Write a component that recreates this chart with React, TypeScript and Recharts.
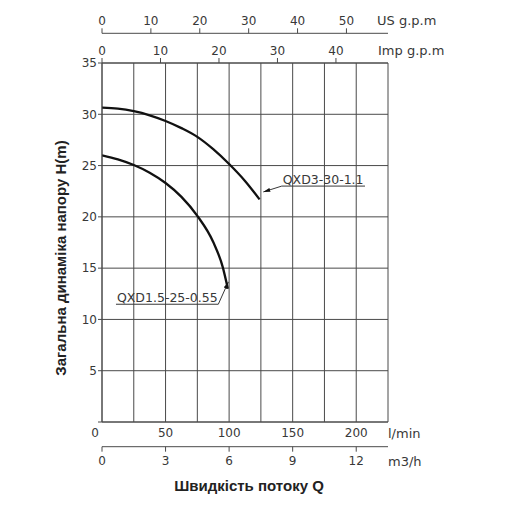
import React from 'react'
import { LineChart, Line, XAxis, YAxis, CartesianGrid, ReferenceLine } from 'recharts'

// axis ticks
const flowTicks = [0, 25, 50, 75, 100, 125, 150, 175, 200, 225]
const headTicks = [0, 5, 10, 15, 20, 25, 30, 35]
const usGpmTicks = [0, 10, 20, 30, 40, 50]
const impGpmTicks = [0, 10, 20, 30, 40]
const m3hTicks = [0, 3, 6, 9, 12]

// secondary scales
const usGpmMax = 58.5
const impGpmMax = 48.9
const m3hMax = 13.5

// QXD3-30-1.1, Q in l/min, H in m
const qxd3Flow = [0, 12.5, 25, 37.5, 50, 62.5, 75, 87.5, 100, 112.5, 124]
const qxd3Head = [30.65, 30.55, 30.3, 29.9, 29.35, 28.65, 27.8, 26.6, 25.15, 23.5, 21.7]

// QXD1.5-25-0.55
const qxd15Flow = [0, 12.5, 25, 37.5, 50, 62.5, 75, 87.5, 95, 99]
const qxd15Head = [26.0, 25.6, 25.05, 24.3, 23.3, 21.95, 20.1, 17.55, 15.1, 13.0]

// callouts: [elbow, arrow tip] and underline [start, end]
const qxd3Leader = [{ q: 141.4, h: 23.0 }, { q: 126.9, h: 22.43 }]
const qxd3Underline = [{ q: 141.4, h: 23.0 }, { q: 206.9, h: 23.0 }]
const qxd15Leader = [{ q: 91.5, h: 11.48 }, { q: 99.4, h: 13.66 }]
const qxd15Underline = [{ q: 11.0, h: 11.48 }, { q: 91.5, h: 11.48 }]

const qxd3 = qxd3Flow.map((q, i) => ({ q, h: qxd3Head[i] }))
const qxd15 = qxd15Flow.map((q, i) => ({ q, h: qxd15Head[i] }))

// end points of the secondary scales, so each axis has something bound to it
const span = (max: number) => [{ q: 0, h: 0 }, { q: max, h: 0 }]

const GRID = '#4a4a4a'
const TEXT = '#383838'
const FONT = 'DejaVu Sans'
const tickStyle = { fontSize: 12, fill: TEXT, fontFamily: FONT }

function unitLabel(text: string, dx: number, dy: number) {
  return ({ viewBox }: any) => (
    <text
      x={viewBox.x + viewBox.width + dx}
      y={viewBox.y + viewBox.height / 2 + 4.7 + dy}
      fontSize={13}
      fill={TEXT}
      fontFamily={FONT}
    >
      {text}
    </text>
  )
}

// l/min labels only every 50, the grid keeps every 25
function FlowTick({ x, y, payload }: any) {
  const v = payload.value
  if (v % 50 !== 0) return <g />
  return (
    <text x={v === 0 ? x - 7 : x} y={y} dy="0.71em" textAnchor="middle" {...tickStyle}>
      {v}
    </text>
  )
}

function calloutText(text: string) {
  return ({ viewBox }: any) => (
    <text x={viewBox.x + 1} y={viewBox.y - 2.5} fontSize={12.5} fill={TEXT} fontFamily={FONT}>
      {text}
    </text>
  )
}

function ArrowLine(props: any) {
  return (
    <line
      x1={props.x1}
      y1={props.y1}
      x2={props.x2}
      y2={props.y2}
      stroke={TEXT}
      strokeWidth={1}
      markerEnd="url(#callout-arrow)"
    />
  )
}

export default function App() {
  const secondary = [
    { id: 'm3h', max: m3hMax },
    { id: 'imp', max: impGpmMax },
    { id: 'us', max: usGpmMax },
  ]
  return (
    <div style={{ position: 'relative', width: 496, height: 495 }}>
      <svg width={0} height={0} style={{ position: 'absolute' }}>
        <defs>
          <marker
            id="callout-arrow"
            viewBox="0 0 10 10"
            refX={10}
            refY={5}
            markerWidth={7}
            markerHeight={4}
            markerUnits="userSpaceOnUse"
            orient="auto"
            preserveAspectRatio="none"
          >
            <path d="M0,0 L10,5 L0,10 z" fill="#111" />
          </marker>
        </defs>
      </svg>
      <LineChart width={496} height={495} margin={{ top: 0, right: 116, bottom: 27.7, left: 0 }}>
        <CartesianGrid xAxisId="lmin" yAxisId="h" stroke={GRID} strokeWidth={1} />
        <XAxis
          xAxisId="lmin"
          dataKey="q"
          type="number"
          orientation="bottom"
          domain={[0, 225]}
          ticks={flowTicks}
          height={24.7}
          axisLine={{ stroke: GRID }}
          tickLine={false}
          tickSize={3}
          tickMargin={3.6}
          tick={<FlowTick />}
          interval={0}
          allowDataOverflow
          label={{ content: unitLabel('l/min', 0, -1.3) }}
        />
        <XAxis
          xAxisId="m3h"
          dataKey="q"
          type="number"
          orientation="bottom"
          domain={[0, m3hMax]}
          ticks={m3hTicks}
          height={28.6}
          axisLine={{ stroke: GRID }}
          tickLine={{ stroke: GRID }}
          tickSize={5}
          tickMargin={5}
          tick={tickStyle}
          interval={0}
          allowDataOverflow
          label={{ content: unitLabel('m3/h', 0, 0) }}
        />
        <XAxis
          xAxisId="imp"
          dataKey="q"
          type="number"
          orientation="top"
          domain={[0, impGpmMax]}
          ticks={impGpmTicks}
          height={29.7}
          axisLine={{ stroke: GRID }}
          tickLine={{ stroke: GRID }}
          tickSize={5}
          tickMargin={3.5}
          tick={tickStyle}
          interval={0}
          allowDataOverflow
          label={{ content: unitLabel('Imp g.p.m', -10, 1.8) }}
        />
        <XAxis
          xAxisId="us"
          dataKey="q"
          type="number"
          orientation="top"
          domain={[0, usGpmMax]}
          ticks={usGpmTicks}
          height={25.3}
          axisLine={{ stroke: GRID }}
          tickLine={{ stroke: GRID }}
          tickSize={5}
          tickMargin={3}
          tick={tickStyle}
          interval={0}
          allowDataOverflow
          label={{ content: unitLabel('US g.p.m', -11, 0) }}
        />
        <YAxis
          yAxisId="h"
          type="number"
          domain={[0, 35]}
          ticks={headTicks}
          width={94}
          axisLine={{ stroke: GRID }}
          tickLine={{ stroke: GRID }}
          tickSize={4}
          tickMargin={1}
          tick={tickStyle}
          interval={0}
          allowDataOverflow
          tickFormatter={(v: number) => (v === 0 ? '' : String(v))}
        />
        {secondary.map((s) => (
          <Line
            key={s.id}
            xAxisId={s.id}
            yAxisId="h"
            data={span(s.max)}
            dataKey="h"
            stroke="none"
            dot={false}
            activeDot={false}
            legendType="none"
            isAnimationActive={false}
          />
        ))}
        <Line
          xAxisId="lmin"
          yAxisId="h"
          data={qxd3}
          dataKey="h"
          type="monotone"
          stroke="#111"
          strokeWidth={2.3}
          dot={false}
          activeDot={false}
          isAnimationActive={false}
        />
        <Line
          xAxisId="lmin"
          yAxisId="h"
          data={qxd15}
          dataKey="h"
          type="monotone"
          stroke="#111"
          strokeWidth={2.3}
          dot={false}
          activeDot={false}
          isAnimationActive={false}
        />
        <ReferenceLine
          xAxisId="lmin"
          yAxisId="h"
          segment={qxd3Leader.map((p) => ({ x: p.q, y: p.h }))}
          shape={<ArrowLine />}
        />
        <ReferenceLine
          xAxisId="lmin"
          yAxisId="h"
          segment={qxd3Underline.map((p) => ({ x: p.q, y: p.h }))}
          stroke={TEXT}
          strokeWidth={1}
          label={{ content: calloutText('QXD3-30-1.1') }}
        />
        <ReferenceLine
          xAxisId="lmin"
          yAxisId="h"
          segment={qxd15Leader.map((p) => ({ x: p.q, y: p.h }))}
          shape={<ArrowLine />}
        />
        <ReferenceLine
          xAxisId="lmin"
          yAxisId="h"
          segment={qxd15Underline.map((p) => ({ x: p.q, y: p.h }))}
          stroke={TEXT}
          strokeWidth={1}
          label={{ content: calloutText('QXD1.5-25-0.55') }}
        />
      </LineChart>
      <div
        style={{
          position: 'absolute',
          left: 52,
          top: 250,
          transform: 'translate(-50%, -50%) rotate(-90deg)',
          whiteSpace: 'nowrap',
          fontFamily: 'Liberation Sans',
          fontWeight: 'bold',
          fontSize: 15,
          color: '#222',
        }}
      >
        Загальна динаміка напору H(m)
      </div>
      <div
        style={{
          position: 'absolute',
          left: 241,
          top: 477,
          transform: 'translate(-50%, -50%)',
          whiteSpace: 'nowrap',
          fontFamily: 'Liberation Sans',
          fontWeight: 'bold',
          fontSize: 15,
          color: '#222',
        }}
      >
        Швидкість потоку Q
      </div>
    </div>
  )
}
